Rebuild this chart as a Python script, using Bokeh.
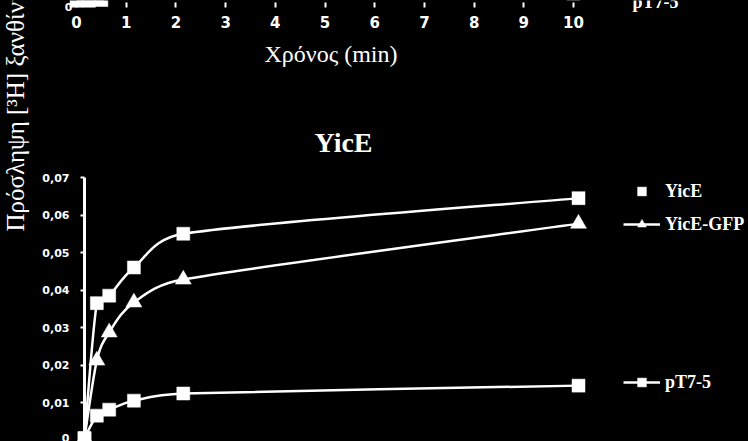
import numpy as np
from bokeh.plotting import figure
from bokeh.models import (Range1d, LinearAxis, FixedTicker, Legend, LegendItem, Label,
                          ColumnDataSource, GlobalInlineStyleSheet)
from bokeh.embed import file_html
from bokeh.resources import INLINE

# ---------------- data ----------------
time_min = [0, 0.25, 0.5, 1, 2, 10]
yice = [0.0005, 0.0365, 0.0385, 0.046, 0.055, 0.0645]
yice_gfp = [0.0005, 0.0212, 0.0287, 0.0367, 0.0428, 0.0577]
pt7_5 = [0.0005, 0.0065, 0.0081, 0.0105, 0.0124, 0.0145]
# previous (upper) chart, only its bottom edge is visible
prev_time_min = [0, 0.25, 0.5, 1, 2, 10]
prev_pt7_5 = [0.001, 0.001, 0.0012, 0.003, 0.0032, 0.0029]

x_ticks = [0, 1, 2, 3, 4, 5, 6, 7, 8, 9, 10]
y_ticks = [0, 0.01, 0.02, 0.03, 0.04, 0.05, 0.06, 0.07]
y_tick_labels = ["0", "0,01", "0,02", "0,03", "0,04", "0,05", "0,06", "0,07"]

title_text = "YicE"
x_label = "Χρόνος (min)"
y_label = "Πρόσληψη [³H] ξανθίνης"
series_names = ["YicE", "YicE-GFP", "pT7-5"]

# ---------------- layout ----------------
W, H = 748, 441
X0, XS = 84.0, 49.4      # px of t=0, px per minute (lower chart)
Y0, YS = 439.5, 3750.0   # px of value 0 (from top), px per unit
TX0, TXS = 76.0, 49.7    # upper chart x mapping
TY0 = 4.0                # upper chart value 0 (px from top)

p = figure(width=W, height=H, output_backend="svg", toolbar_location=None,
           x_range=Range1d(-X0 / XS, (W - X0) / XS),
           y_range=Range1d(-(H - Y0) / YS, Y0 / YS),
           x_axis_type=None, y_axis_type=None, min_border=0,
           background_fill_color="black", border_fill_color="black",
           outline_line_color=None)
p.extra_x_ranges = {"top": Range1d(-TX0 / TXS, (W - TX0) / TXS)}
p.extra_y_ranges = {"top": Range1d(-(H - TY0) / YS, TY0 / YS)}
p.stylesheets = [GlobalInlineStyleSheet(
    css="html,body{margin:0!important;padding:0;background:#000;overflow:hidden}")]

SERIF = "Liberation Serif"
SANS = "DejaVu Sans"


def excel_bezier(xs, ys, sx, sy):
    P = np.column_stack([np.asarray(xs, float) * sx, np.asarray(ys, float) * sy])
    n = len(P)
    out = {k: [] for k in ("x0", "y0", "x1", "y1", "cx0", "cy0", "cx1", "cy1")}
    for i in range(n - 1):
        p0 = P[i - 1] if i > 0 else P[i]
        p1, p2 = P[i], P[i + 1]
        p3 = P[i + 2] if i + 2 < n else P[i + 1]
        d12 = float(np.hypot(*(p2 - p1)))

        def ctrl(t):
            L = float(np.hypot(*t))
            if L == 0:
                return np.zeros(2)
            return t / L * min(L / 6.0, d12 / 2.0)

        c1 = p1 + ctrl(p2 - p0)
        c2 = p2 - ctrl(p3 - p1)
        out["x0"].append(p1[0] / sx); out["y0"].append(p1[1] / sy)
        out["x1"].append(p2[0] / sx); out["y1"].append(p2[1] / sy)
        out["cx0"].append(c1[0] / sx); out["cy0"].append(c1[1] / sy)
        out["cx1"].append(c2[0] / sx); out["cy1"].append(c2[1] / sy)
    return out


LW = 2.5
renderers = {}
for name, vals, marker, size in [("YicE", yice, "square", 13),
                                 ("YicE-GFP", yice_gfp, "triangle", 16),
                                 ("pT7-5", pt7_5, "square", 13)]:
    bz = p.bezier(x0="x0", y0="y0", x1="x1", y1="y1", cx0="cx0", cy0="cy0",
                  cx1="cx1", cy1="cy1", source=ColumnDataSource(excel_bezier(time_min, vals, XS, YS)),
                  line_color="white", line_width=LW)
    sc = p.scatter(time_min, vals, marker=marker, size=size, fill_color="white",
                   line_color="white", line_width=0.5)
    renderers[name] = (bz, sc)

# upper chart series (mostly outside the picture)
p.bezier(x0="x0", y0="y0", x1="x1", y1="y1", cx0="cx0", cy0="cy0", cx1="cx1", cy1="cy1",
         source=ColumnDataSource(excel_bezier(prev_time_min, prev_pt7_5, TXS, YS)),
         line_color="white", line_width=LW, x_range_name="top", y_range_name="top")
p.scatter(prev_time_min, prev_pt7_5, marker="square", size=13, fill_color="white",
          line_color="white", line_width=0.5, x_range_name="top", y_range_name="top")

# y axis of the lower chart
yax = LinearAxis(fixed_location=0, ticker=FixedTicker(ticks=y_ticks), bounds=(0, 0.07),
                 major_label_overrides={t: l for t, l in zip(y_ticks, y_tick_labels)},
                 axis_line_color="white", axis_line_width=3,
                 major_tick_line_color="white", major_tick_line_width=2,
                 major_tick_out=4, major_tick_in=0, minor_tick_line_color=None,
                 major_label_text_color="white", major_label_text_font=SANS,
                 major_label_text_font_style="bold", major_label_text_font_size="11px",
                 major_label_standoff=11)
p.add_layout(yax, "left")

# x axis of the upper chart (its frame is cut off above)
xax = LinearAxis(x_range_name="top", fixed_location=(Y0 - 2) / YS,
                 ticker=FixedTicker(ticks=x_ticks), bounds=(0, 10.25),
                 axis_line_color=None, major_tick_line_color="white",
                 major_tick_line_width=2, major_tick_out=5, major_tick_in=0,
                 minor_tick_line_color=None,
                 major_label_text_color="white", major_label_text_font=SANS,
                 major_label_text_font_style="bold", major_label_text_font_size="15px",
                 major_label_standoff=8,
                 axis_label=x_label, axis_label_text_color="white",
                 axis_label_text_font=SERIF, axis_label_text_font_style="normal",
                 axis_label_text_font_size="24px", axis_label_standoff=10)
p.add_layout(xax, "below")

# title, rotated y label, cut-off bits of the upper chart
p.add_layout(Label(x=343, y=H - 142, x_units="screen", y_units="screen", text=title_text,
                   text_align="center", text_baseline="middle", text_color="white",
                   text_font=SERIF, text_font_style="bold", text_font_size="28px"))
p.add_layout(Label(x=15, y=H - 231, x_units="screen", y_units="screen", text=y_label,
                   angle=np.pi / 2, text_align="left", text_baseline="middle",
                   text_color="white", text_font=SERIF, text_font_size="25px"))
p.add_layout(Label(x=72, y=H - 6, x_units="screen", y_units="screen", text="0",
                   text_align="right", text_baseline="alphabetic", text_color="white",
                   text_font=SANS, text_font_style="bold", text_font_size="11px"))
p.add_layout(Label(x=632, y=H - 1, x_units="screen", y_units="screen", text="pT7-5",
                   text_align="left", text_baseline="middle", text_color="white",
                   text_font=SERIF, text_font_style="bold", text_font_size="18px"))


def add_legend(items, ycenter):
    lg = Legend(items=items, location=(623, H - ycenter - 11), orientation="vertical",
                padding=0, margin=0, spacing=0, glyph_width=37, glyph_height=22,
                label_height=22, label_standoff=5, border_line_color=None,
                background_fill_alpha=0, label_text_color="white",
                label_text_font=SERIF, label_text_font_style="bold",
                label_text_font_size="18px")
    p.add_layout(lg, "center")


add_legend([LegendItem(label="YicE", renderers=[renderers["YicE"][1]])], 191)
add_legend([LegendItem(label="YicE-GFP", renderers=list(renderers["YicE-GFP"]))], 224)
add_legend([LegendItem(label="pT7-5", renderers=list(renderers["pT7-5"]))], 382)

open("out.html", "w").write(file_html(p, INLINE))
